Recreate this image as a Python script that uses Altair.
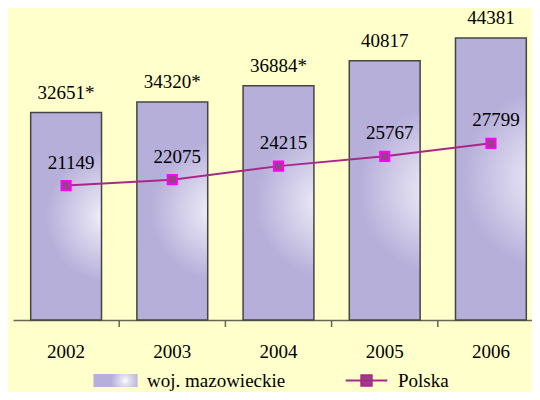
import altair as alt
import pandas as pd

years = ["2002", "2003", "2004", "2005", "2006"]
mazowieckie = [32651, 34320, 36884, 40817, 44381]
mazowieckie_labels = ["32651*", "34320*", "36884*", "40817", "44381"]
polska = [21149, 22075, 24215, 25767, 27799]
series_bar = "woj. mazowieckie"
series_line = "Polska"

df = pd.DataFrame({
    "year": years,
    "maz": mazowieckie,
    "maz_label": mazowieckie_labels,
    "pol": polska,
    "pol_label": [str(v) for v in polska],
    "s_bar": [series_bar] * 5,
    "s_line": [series_line] * 5,
})
ticks_df = pd.DataFrame({"year": years[1:]})

FONT = "Liberation Serif"
BG = "#FFFFCC"
STEP = 531 / 5
PAD_INNER = 0.333

xscale = alt.Scale(domain=years, range=[0, 531], paddingInner=PAD_INNER,
                   paddingOuter=PAD_INNER / 2, align=0.5)
yscale = alt.Scale(domain=[0, 49100], nice=False, zero=True)

x = alt.X("year:N", scale=xscale,
          axis=alt.Axis(title=None, ticks=False, labelFont=FONT, labelFontSize=19,
                        labelColor="black", labelPadding=22, domainColor="#666655",
                        domainWidth=1.5, labelAngle=0))
y = alt.Y("maz:Q", scale=yscale, axis=None)

grad = {
    "gradient": "radial",
    "x1": 0.72, "y1": 0.5, "r1": 0.0,
    "x2": 0.72, "y2": 0.5, "r2": 0.32,
    "stops": [
        {"offset": 0.0, "color": "#FFFFFF"},
        {"offset": 0.3, "color": "#E2DFF1"},
        {"offset": 1.0, "color": "#B6AFDA"},
    ],
}

bar_legend = alt.Legend(
    title=None, orient="none", legendX=93, legendY=363,
    symbolType="M-3.4,-1H3.4V1H-3.4Z", symbolSize=169,
    symbolFillColor="#C4BEE2", symbolStrokeColor="#444444", symbolStrokeWidth=1.5,
    labelFont=FONT, labelFontSize=19, labelColor="black", labelOffset=22,
    padding=0,
)
line_legend = alt.Legend(
    title=None, orient="none", legendX=344, legendY=363,
    symbolType="M-3.2,0H3.2M-0.8,-0.8H0.8V0.8H-0.8Z", symbolSize=169,
    symbolFillColor="#9B3F86", symbolStrokeColor="#B0208F", symbolStrokeWidth=2,
    labelFont=FONT, labelFontSize=19, labelColor="black", labelOffset=22,
    padding=0,
)

bars = alt.Chart(df).mark_bar(fill=grad, stroke="#444444", strokeWidth=1.5).encode(
    x=x, y=y,
    opacity=alt.Opacity("s_bar:N", scale=alt.Scale(range=[1]), legend=bar_legend),
)

bar_text = alt.Chart(df).mark_text(font=FONT, fontSize=19, color="black",
                                   baseline="alphabetic", dy=-14).encode(
    x=x, y=y, text="maz_label:N")

line = alt.Chart(df).mark_line(strokeWidth=2).encode(
    x=x, y=alt.Y("pol:Q", scale=yscale, axis=None),
    stroke=alt.Stroke("s_line:N", scale=alt.Scale(range=["#A8288A"]), legend=line_legend),
)

pts = alt.Chart(df).mark_square(size=85, fill="#9B3F86", stroke="#FF00FF",
                                strokeWidth=2, opacity=1).encode(
    x=x, y=alt.Y("pol:Q", scale=yscale, axis=None))

line_text = alt.Chart(df).mark_text(font=FONT, fontSize=19, color="black",
                                    baseline="alphabetic", dy=-17, dx=5).encode(
    x=x, y=alt.Y("pol:Q", scale=yscale, axis=None), text="pol_label:N")

tick_rules = alt.Chart(ticks_df).mark_rule(color="#666655", strokeWidth=1.5).encode(
    x=alt.X("year:N", scale=xscale),
    xOffset=alt.value(-STEP * PAD_INNER / 2),
    y=alt.value(312), y2=alt.value(319),
)

chart = alt.layer(bars, bar_text, line, pts, line_text, tick_rules).resolve_scale(
    opacity="independent", stroke="independent"
).resolve_legend(opacity="independent", stroke="independent").properties(
    width=519, height=312,
    autosize=alt.AutoSizeParams(type="none"),
    padding={"left": 5, "top": 0, "right": 0, "bottom": 72},
    background=BG,
).configure_view(stroke=None)

chart.save("out.html", embed_options={"renderer": "svg", "actions": False})
